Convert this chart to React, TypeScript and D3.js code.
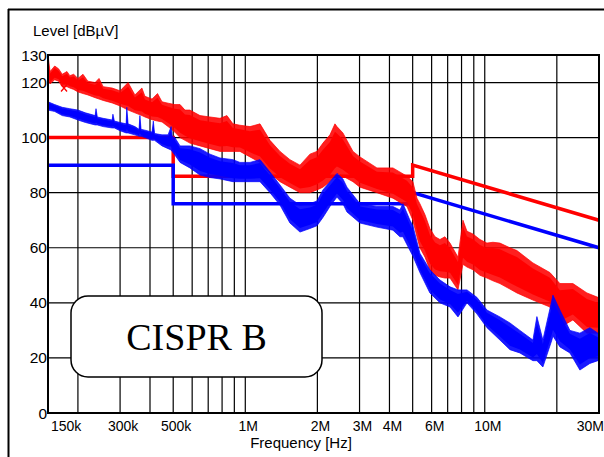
import React from 'react';
import * as d3 from 'd3';

// ---- axis data ----
const xTickValues = [0.15, 0.3, 0.5, 1, 2, 3, 4, 6, 10, 30];
const xTickLabels = ['150k', '300k', '500k', '1M', '2M', '3M', '4M', '6M', '10M', '30M'];
const xGridValues = [0.2, 0.3, 0.4, 0.5, 0.6, 0.7, 0.8, 0.9, 1, 2, 3, 4, 5, 6, 7, 8, 9, 10, 20, 30];
const yTickValues = [0, 20, 40, 60, 80, 100, 120, 130];

// ---- limit lines (MHz, dBµV) ----
const redLimitF = [0.15, 0.5, 0.5, 5, 5, 30];
const redLimitV = [100, 100, 86, 86, 90, 70];
const blueLimitF = [0.15, 0.5, 0.5, 5, 5, 30];
const blueLimitV = [90, 90, 76, 76, 80, 60];

// ---- measured traces (MHz, upper / lower envelope in dBµV) ----
const redF = [0.150, 0.153, 0.160, 0.166, 0.172, 0.180, 0.185, 0.192, 0.200, 0.210, 0.220, 0.236, 0.245, 0.255, 0.278, 0.300, 0.324, 0.346, 0.370, 0.381, 0.408, 0.430, 0.449, 0.476, 0.508, 0.534, 0.560, 0.587, 0.647, 0.712, 0.784, 0.838, 0.888, 0.950, 1.046, 1.152, 1.268, 1.396, 1.536, 1.692, 1.862, 1.992, 2.110, 2.257, 2.368, 2.414, 2.557, 2.816, 3.012, 3.546, 4.136, 4.733, 5.01, 5.21, 5.36, 5.63, 5.90, 6.20, 6.50, 6.82, 7.16, 7.73, 8.11, 8.43, 8.93, 9.55, 10.21, 10.82, 11.57, 12.74, 13.62, 15.89, 18.71, 20.60, 23.34, 26.71, 29.69, 30];
const redHi = [130, 124, 126, 125, 123, 124, 122.5, 123, 121.5, 123, 120.5, 120, 121.5, 118.5, 118, 117, 120, 115.5, 118, 115, 114, 116, 113, 112.5, 112, 112, 110, 110, 108, 107.5, 107, 108, 105, 104.5, 104, 105, 99, 95, 92, 90, 94, 95, 98, 101, 105, 104, 101.7, 95, 93, 89, 89, 86, 84, 78, 76, 72, 67, 64, 63, 64, 61.7, 56.6, 70, 66, 65, 63, 61.7, 62, 61.7, 60, 59, 54.5, 51, 47, 47, 43.6, 42, 42];
const redLo = [121, 119.5, 121, 120.5, 118.5, 118.5, 118, 117.5, 116.6, 116, 115.5, 114.5, 114, 113.5, 112.6, 111.5, 110, 109, 108, 107.5, 106.5, 106, 105.7, 104, 102, 100, 99, 98, 97, 96, 95, 95, 95, 95, 93, 91, 87, 84, 82, 80, 80, 81, 82, 84, 86, 87, 86, 84, 82, 80, 78, 75, 70, 64, 60, 56.6, 52, 50, 49.4, 49, 49, 44.7, 54, 53, 52, 50, 49, 48, 47, 45, 43.6, 41, 38.5, 31, 33.8, 29, 29, 33];

const blueF = [0.150, 0.160, 0.172, 0.185, 0.200, 0.215, 0.236, 0.238, 0.241, 0.255, 0.278, 0.280, 0.284, 0.300, 0.318, 0.320, 0.324, 0.346, 0.360, 0.363, 0.367, 0.381, 0.408, 0.413, 0.418, 0.449, 0.476, 0.490, 0.495, 0.508, 0.534, 0.587, 0.647, 0.712, 0.784, 0.888, 0.950, 1.046, 1.152, 1.268, 1.396, 1.536, 1.692, 1.862, 1.992, 2.110, 2.257, 2.414, 2.557, 2.658, 3.012, 3.546, 4.136, 4.424, 4.554, 4.871, 5.01, 5.36, 5.90, 6.50, 7.16, 7.73, 8.43, 9.27, 10.21, 11.57, 12.74, 14.02, 15.89, 16.51, 17.49, 19.07, 19.26, 20.60, 22.68, 24.96, 27.48, 29.69, 30];
const blueHi = [113, 112, 111, 110.5, 110, 109, 108, 110.5, 107.5, 107, 106.4, 108.5, 106, 105.5, 105, 111, 105, 104, 103, 108, 103, 102.7, 102, 106, 101.5, 101, 101, 104, 100.5, 100, 97, 97, 96, 94, 92.6, 92, 91, 91, 92, 87.5, 82.8, 78, 75.5, 76, 77, 81, 84, 87, 85, 82, 76, 75, 75, 73.7, 76, 70, 68, 58, 52, 48.3, 45.8, 44.7, 44.7, 42, 37.4, 34.9, 32.7, 30, 26.5, 35, 26.5, 41, 42.8, 37.4, 30, 29, 31, 29, 28];
const blueLo = [110, 109.5, 108, 107.5, 106.4, 105.5, 104.6, 104.6, 104.6, 104, 103.5, 103.5, 103.5, 102.5, 101.7, 101.7, 101.7, 101, 100.5, 100.5, 100.5, 100, 99, 99, 99, 97, 96, 95.5, 95, 93.7, 91, 89, 86.4, 85.5, 85, 84, 84, 84, 84, 80, 75.5, 69, 65.7, 67, 68, 71, 75, 78.4, 76, 73, 69, 67.5, 66.4, 64, 64, 59, 57, 51, 43.6, 40, 38.5, 34.9, 40, 36, 31, 26.5, 23, 21.8, 19, 19, 16.7, 26.5, 28, 24, 21.8, 15.6, 18, 19, 20];

// marker
const markerF = [0.175];
const markerV = [118];

const RED = '#ff0000';
const BLUE = '#0000ff';
const SANS = '"Liberation Sans", Arial, Helvetica, sans-serif';
const SERIF = '"Liberation Serif", "Times New Roman", serif';

export default function App() {
  const W = 604, H = 457;
  const left = 48, right = 599, top = 55, bottom = 413;
  const x = d3.scaleLog().domain([0.15, 30]).range([left, right]);
  const y = d3.scaleLinear().domain([0, 130]).range([bottom, top]);

  // envelope band; `inset` shrinks it toward its middle to draw the dense core
  const band = (f: number[], hi: number[], lo: number[], inset: number) =>
    d3.area<number>()
      .x((i) => x(f[i]))
      .y0((i) => y(lo[i] + inset * (hi[i] - lo[i])))
      .y1((i) => y(hi[i] - inset * (hi[i] - lo[i])))(d3.range(f.length)) || '';

  const poly = (f: number[], v: number[]) =>
    d3.line<number>()
      .x((i) => x(f[i]))
      .y((i) => y(v[i]))(d3.range(f.length)) || '';

  return (
    <svg width={W} height={H} style={{ position: 'absolute', left: 0, top: 0, background: '#fff' }}>
      <defs>
        <clipPath id="plotclip">
          <rect x={left} y={top} width={right - left} height={bottom - top} />
        </clipPath>
      </defs>
      <rect x={0} y={0} width={W} height={H} fill="#fff" />
      {/* outer frame */}
      <line x1={8} y1={9.5} x2={W} y2={9.5} stroke="#000" strokeWidth={2} />
      <line x1={8.5} y1={9} x2={8.5} y2={H} stroke="#000" strokeWidth={2} />

      {/* grid */}
      {xGridValues.map((v) => (
        <line key={'gx' + v} x1={x(v)} x2={x(v)} y1={top} y2={bottom} stroke="#000" strokeWidth={1.2} />
      ))}
      {yTickValues.map((v) => (
        <line key={'gy' + v} x1={left} x2={right} y1={y(v)} y2={y(v)} stroke="#000" strokeWidth={1.2} />
      ))}

      {/* limit lines */}
      <path d={poly(redLimitF, redLimitV)} fill="none" stroke={RED} strokeWidth={3.5} />
      <path d={poly(blueLimitF, blueLimitV)} fill="none" stroke={BLUE} strokeWidth={3.5} />

      {/* traces */}
      <g clipPath="url(#plotclip)">
        <path d={band(redF, redHi, redLo, 0)} fill={RED} fillOpacity={0.88} stroke={RED} strokeOpacity={0.7} strokeWidth={1} strokeLinejoin="round" />
        <path d={band(redF, redHi, redLo, 0.15)} fill={RED} stroke="none" />
        <path d={band(blueF, blueHi, blueLo, 0)} fill={BLUE} fillOpacity={0.9} stroke={BLUE} strokeOpacity={0.7} strokeWidth={1} strokeLinejoin="round" />
        <path d={band(blueF, blueHi, blueLo, 0.15)} fill={BLUE} stroke="none" />
        {markerF.map((f, i) => {
          const cx = x(f), cy = y(markerV[i]);
          return (
            <path key={'m' + i} d={`M${cx - 3},${cy - 3.5}L${cx + 3},${cy + 3.5}M${cx + 3},${cy - 3.5}L${cx - 3},${cy + 3.5}`}
              stroke={RED} strokeWidth={1.3} fill="none" />
          );
        })}
      </g>

      {/* plot border */}
      <rect x={left} y={top} width={right - left} height={bottom - top} fill="none" stroke="#000" strokeWidth={2} />

      {/* y tick labels */}
      {yTickValues.map((v) => (
        <text key={'ty' + v} x={left - 1} y={y(v) + 5.5} textAnchor="end" fontFamily={SANS} fontSize={15.5} fill="#000">
          {v}
        </text>
      ))}
      {/* x tick labels */}
      {xTickValues.map((v, i) => {
        const last = i === xTickValues.length - 1;
        const first = i === 0;
        return (
          <text key={'tx' + v}
            x={first ? x(v) + 3 : last ? W : x(v) + 3}
            y={431}
            textAnchor={first ? 'start' : last ? 'end' : 'middle'}
            fontFamily={SANS} fontSize={14} fill="#000">
            {xTickLabels[i]}
          </text>
        );
      })}

      {/* axis titles */}
      <text x={33} y={36} fontFamily={SANS} fontSize={15} fill="#000">Level [dBµV]</text>
      <text x={301} y={448} textAnchor="middle" fontFamily={SANS} fontSize={15} fill="#000">Frequency [Hz]</text>

      {/* CISPR label box */}
      <rect x={71} y={296} width={251} height={81} rx={17} ry={17} fill="#fff" stroke="#000" strokeWidth={1.5} />
      <text x={196.5} y={350} textAnchor="middle" fontFamily={SERIF} fontSize={38} fill="#000">CISPR B</text>
    </svg>
  );
}
